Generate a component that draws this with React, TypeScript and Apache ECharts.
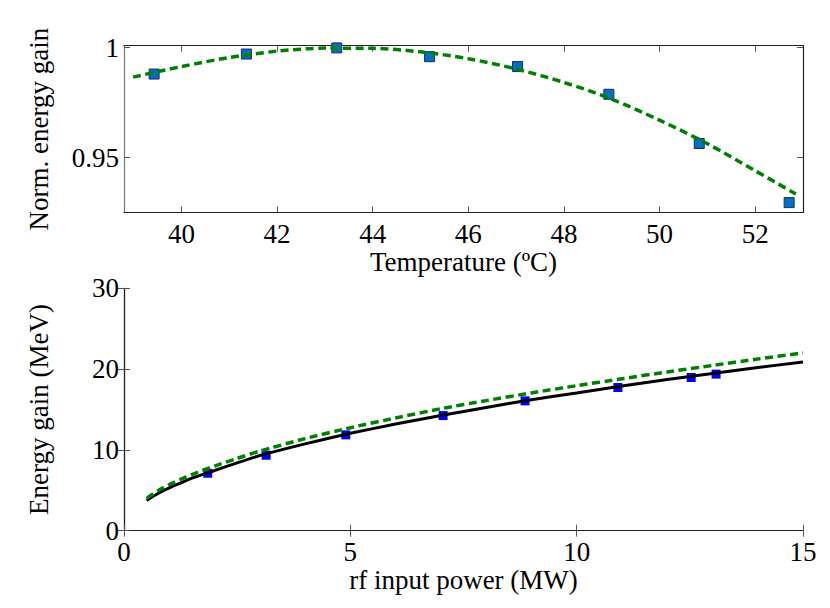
import React, { useEffect, useRef } from "react";
import * as echarts from "echarts";

// ---- Top panel: normalized energy gain vs temperature ----
const tempX = [39.43, 41.36, 43.25, 45.19, 47.03, 48.94, 50.83, 52.71];
const tempGain = [0.988, 0.9971, 0.9999, 0.9959, 0.9914, 0.9788, 0.9564, 0.9295];
const tempFitX = [38.99, 40, 41, 42, 43, 44, 45, 46, 47, 48, 49, 50, 51, 52, 52.85];
const tempFitY = [0.9866, 0.9914, 0.9955, 0.9984, 0.9998, 0.9997, 0.9981, 0.995, 0.9903, 0.9842, 0.9766, 0.967, 0.9563, 0.944, 0.9334];
const tempTicks = [40, 42, 44, 46, 48, 50, 52];
const gainTicks = [0.95, 1];

// ---- Bottom panel: energy gain vs rf input power ----
const powerX = [1.85, 3.14, 4.9, 7.05, 8.86, 10.91, 12.53, 13.08];
const energy = [7.11, 9.34, 11.86, 14.25, 16.07, 17.72, 18.96, 19.38];
const modelX = [0.5, 0.75, 1, 1.25, 1.5, 2, 2.5, 3, 4, 5, 6, 7, 8, 9, 10, 11, 12, 13, 14, 15];
const modelSolid = [3.75, 4.6, 5.3, 5.9, 6.5, 7.45, 8.4, 9.3, 10.75, 12.05, 13.2, 14.25, 15.25, 16.2, 17.05, 17.9, 18.7, 19.45, 20.2, 20.87];
const modelDashed = [4.0, 4.95, 5.7, 6.35, 6.95, 8.0, 8.95, 9.85, 11.4, 12.75, 13.95, 15.1, 16.1, 17.05, 17.95, 18.8, 19.65, 20.45, 21.25, 22.0];

const FONT = "'Liberation Serif', 'Times New Roman', Times, serif";

export default function App() {
  const ref = useRef<HTMLDivElement>(null);
  useEffect(() => {
    document.body.style.margin = "0";
    const chart = echarts.init(ref.current!, null, { renderer: "svg" });
    const zip = (xs: number[], ys: number[]) => xs.map((x, i) => [x, ys[i]]);
    const label = { fontFamily: FONT, fontSize: 27, lineHeight: 27, color: "#000" };
    const lineDark = { show: true, lineStyle: { color: "#222", width: 1.2 } };
    const lineGray = { show: true, lineStyle: { color: "#777", width: 1.2 } };
    const tick = { show: true, inside: true, length: 6, lineStyle: { color: "#555", width: 1 } };
    const nameStyle = { fontFamily: FONT, fontSize: 27, lineHeight: 27, color: "#000" };

    chart.setOption({
      animation: false,
      backgroundColor: "#fff",
      textStyle: { fontFamily: FONT },
      grid: [
        { left: 124, top: 45.7, width: 679, height: 166.8 },
        { left: 124, top: 288.3, width: 679, height: 242.4 },
      ],
      xAxis: [
        {
          gridIndex: 0, type: "value", position: "bottom", min: 38.8, max: 53,
          axisLine: lineDark, splitLine: { show: false },
          axisTick: { ...tick, customValues: tempTicks },
          axisLabel: { ...label, margin: 8, customValues: tempTicks },
          name: "Temperature (ºC)", nameLocation: "middle", nameGap: 31, nameTextStyle: nameStyle,
        },
        {
          gridIndex: 0, type: "value", position: "top", min: 38.8, max: 53,
          axisLine: lineDark, splitLine: { show: false },
          axisTick: { ...tick, customValues: tempTicks },
          axisLabel: { show: false },
        },
        {
          gridIndex: 1, type: "value", position: "bottom", min: 0, max: 15, interval: 5,
          axisLine: lineDark, splitLine: { show: false },
          axisTick: tick,
          axisLabel: { ...label, margin: 8 },
          name: "rf input power (MW)", nameLocation: "middle", nameGap: 34, nameTextStyle: nameStyle,
        },
        {
          gridIndex: 1, type: "value", position: "top", min: 0, max: 15, interval: 5,
          axisLine: lineDark, splitLine: { show: false },
          axisTick: tick, axisLabel: { show: false },
        },
      ],
      yAxis: [
        {
          gridIndex: 0, type: "value", position: "left", min: 0.925, max: 1.0009,
          axisLine: lineGray, splitLine: { show: false },
          axisTick: { ...tick, customValues: gainTicks },
          axisLabel: {
            ...label, margin: 5, customValues: gainTicks,
            formatter: (v: number) => (Math.abs(v - 1) < 1e-9 ? "1" : String(v)),
          },
          name: "Norm. energy gain", nameLocation: "middle", nameRotate: 90, nameGap: 72,
          nameTextStyle: nameStyle,
        },
        {
          gridIndex: 0, type: "value", position: "right", min: 0.925, max: 1.0009,
          axisLine: lineDark, splitLine: { show: false },
          axisTick: { ...tick, customValues: gainTicks },
          axisLabel: { show: false },
        },
        {
          gridIndex: 1, type: "value", position: "left", min: 0, max: 30, interval: 10,
          axisLine: lineGray, splitLine: { show: false },
          axisTick: tick,
          axisLabel: { ...label, margin: 5 },
          name: "Energy gain (MeV)", nameLocation: "middle", nameRotate: 90, nameGap: 72,
          nameTextStyle: nameStyle,
        },
        {
          gridIndex: 1, type: "value", position: "right", min: 0, max: 30, interval: 10,
          axisLine: lineDark, splitLine: { show: false },
          axisTick: tick, axisLabel: { show: false },
        },
      ],
      series: [
        {
          type: "scatter", xAxisIndex: 0, yAxisIndex: 0, data: zip(tempX, tempGain),
          symbol: "rect", symbolSize: 10,
          itemStyle: { color: "#0070c0", borderColor: "#1c2a70", borderWidth: 1, opacity: 1 },
          z: 2,
        },
        {
          type: "line", xAxisIndex: 0, yAxisIndex: 0, data: zip(tempFitX, tempFitY),
          showSymbol: false, smooth: 0.3,
          lineStyle: { color: "#008000", width: 3.5, type: [8, 4.5] },
          z: 3,
        },
        {
          type: "scatter", xAxisIndex: 2, yAxisIndex: 2, data: zip(powerX, energy),
          symbol: "rect", symbolSize: 9,
          itemStyle: { color: "#0000ff", opacity: 1 },
          z: 2,
        },
        {
          type: "line", xAxisIndex: 2, yAxisIndex: 2, data: zip(modelX, modelSolid),
          showSymbol: false, smooth: 0.2,
          lineStyle: { color: "#000", width: 3 },
          z: 3,
        },
        {
          type: "line", xAxisIndex: 2, yAxisIndex: 2, data: zip(modelX, modelDashed),
          showSymbol: false, smooth: 0.2,
          lineStyle: { color: "#008000", width: 3.5, type: [8, 4.5] },
          z: 4,
        },
      ],
    });
    return () => chart.dispose();
  }, []);
  return <div ref={ref} style={{ width: 830, height: 608 }} />;
}
